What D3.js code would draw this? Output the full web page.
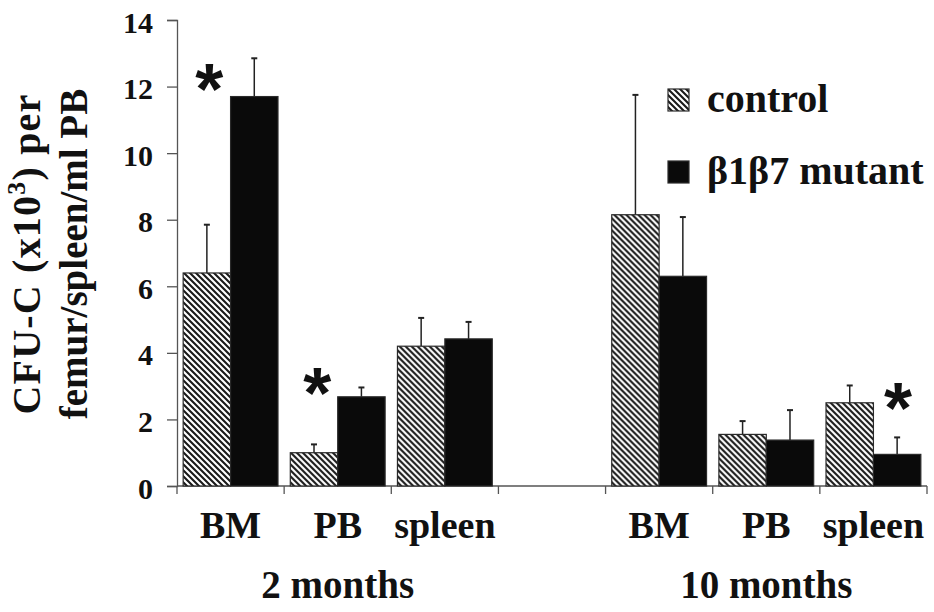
<!DOCTYPE html>
<html>
<head>
<meta charset="utf-8">
<script src="https://cdn.jsdelivr.net/npm/d3@7"></script>
<style>
  body { margin: 0; background: #fff; }
  svg { display: block; }
  text { font-family: "Liberation Serif", "Times New Roman", serif; font-weight: bold; fill: #111; }
  text.star { font-family: "Liberation Sans", Arial, sans-serif; }
</style>
</head>
<body>
<div id="chart"></div>
<script>
// categories along the x axis ('' is the gap between the two time points)
const categories = ['BM', 'PB', 'spleen', '', 'BM', 'PB', 'spleen'];
const groups = ['2 months', '10 months'];
const series = ['control', 'β1β7 mutant'];

// CFU-C (x10^3) means and upper error bars, per category
const controlValues = [6.4, 1.0, 4.2, null, 8.15, 1.55, 2.5];
const controlErrors = [7.85, 1.25, 5.05, null, 11.75, 1.95, 3.02];
const mutantValues = [11.7, 2.68, 4.42, null, 6.3, 1.38, 0.95];
const mutantErrors = [12.85, 2.96, 4.93, null, 8.08, 2.28, 1.46];

// significance stars: category index, value level
const starCats = [0, 1, 6];
const starLevels = [12.25, 3.12, 2.67];

const yTicks = [0, 2, 4, 6, 8, 10, 12, 14];

const W = 934, H = 612;
const margin = { top: 20, right: 7, bottom: 126, left: 177 };
const width = W - margin.left - margin.right;
const height = H - margin.top - margin.bottom;

const svg = d3.select('#chart').append('svg')
  .attr('width', W)
  .attr('height', H);

const defs = svg.append('defs');
const pat = defs.append('pattern')
  .attr('id', 'hatch')
  .attr('patternUnits', 'userSpaceOnUse')
  .attr('width', 6)
  .attr('height', 6);
pat.append('rect').attr('width', 6).attr('height', 6).attr('fill', '#fff');
pat.append('path')
  .attr('d', 'M0,0 L6,6 M-3,3 L3,9 M3,-3 L9,3')
  .attr('stroke', '#1a1a1a')
  .attr('stroke-width', 2.1);

const el = svg.append('g')
  .attr('transform', `translate(${margin.left}, ${margin.top})`);

const x0 = d3.scaleBand()
  .domain(d3.range(categories.length))
  .range([0, width])
  .padding(0);

const x1 = d3.scaleBand()
  .domain(series)
  .range([0, x0.bandwidth()])
  .paddingInner(0)
  .paddingOuter(0.13);

const yScale = d3.scaleLinear()
  .domain([0, 14])
  .range([height, 0]);

const axisColor = '#555';

// y axis
const yAxis = d3.axisLeft(yScale)
  .tickValues(yTicks)
  .tickSize(10)
  .tickPadding(14)
  .tickFormat(d3.format('d'));

const gy = el.append('g').call(yAxis);
gy.select('.domain').attr('stroke', axisColor).attr('stroke-width', 1.3);
gy.selectAll('.tick line').attr('stroke', axisColor).attr('stroke-width', 1.3);
gy.selectAll('.tick text')
  .attr('font-size', '30px')
  .attr('fill', '#111')
  .attr('dy', '0.4em');

// x axis: baseline plus ticks at category boundaries
const gx = el.append('g').attr('transform', `translate(0, ${height})`);
gx.append('line')
  .attr('x1', 0).attr('x2', width)
  .attr('stroke', axisColor).attr('stroke-width', 1.3);
const bounds = d3.range(categories.length + 1).map(i => i < categories.length ? x0(i) : width);
gx.selectAll('.xtick')
  .data(bounds)
  .enter().append('line')
  .attr('x1', d => d).attr('x2', d => d)
  .attr('y1', 0).attr('y2', 8)
  .attr('stroke', axisColor).attr('stroke-width', 1.3);

gx.selectAll('.cat')
  .data(categories)
  .enter().append('text')
  .attr('x', (d, i) => x0(i) + x0.bandwidth() / 2)
  .attr('y', 52)
  .attr('text-anchor', 'middle')
  .attr('font-size', '38px')
  .text(d => d);

gx.selectAll('.grp')
  .data(groups)
  .enter().append('text')
  .attr('x', (d, i) => x0(i * 4 + 1) + x0.bandwidth() / 2)
  .attr('y', 112)
  .attr('text-anchor', 'middle')
  .attr('font-size', '39px')
  .text(d => d);

// bars
const rows = categories.map((c, i) => ({
  i,
  vals: [
    { s: series[0], v: controlValues[i], e: controlErrors[i] },
    { s: series[1], v: mutantValues[i], e: mutantErrors[i] },
  ],
})).filter(r => r.vals[0].v != null);

const cat = el.selectAll('.cat-g')
  .data(rows)
  .enter().append('g')
  .attr('transform', d => `translate(${x0(d.i)}, 0)`);

const cx = d => x1(d.s) + x1.bandwidth() / 2;

// error bars (drawn first so bar covers base)
cat.selectAll('.err')
  .data(d => d.vals)
  .enter().append('line')
  .attr('x1', cx).attr('x2', cx)
  .attr('y1', d => yScale(d.v))
  .attr('y2', d => yScale(d.e))
  .attr('stroke', '#222')
  .attr('stroke-width', 1.5);

cat.selectAll('.cap')
  .data(d => d.vals)
  .enter().append('line')
  .attr('x1', d => cx(d) - 3).attr('x2', d => cx(d) + 3)
  .attr('y1', d => yScale(d.e))
  .attr('y2', d => yScale(d.e))
  .attr('stroke', '#222')
  .attr('stroke-width', 2);

cat.selectAll('.bar')
  .data(d => d.vals)
  .enter().append('rect')
  .attr('x', d => x1(d.s))
  .attr('width', x1.bandwidth())
  .attr('y', d => yScale(d.v))
  .attr('height', d => height - yScale(d.v))
  .attr('fill', d => d.s === series[0] ? 'url(#hatch)' : '#0a0a0a')
  .attr('stroke', '#2a2a2a')
  .attr('stroke-width', 1.2);

// stars
const starOffset = [0.3, 0.31, 0.73];
el.selectAll('.star')
  .data(starCats)
  .enter().append('text')
  .attr('class', 'star')
  .attr('x', (d, k) => x0(d) + x0.bandwidth() * starOffset[k])
  .attr('y', (d, k) => yScale(starLevels[k]) + 36)
  .attr('text-anchor', 'middle')
  .attr('font-size', '72px')
  .text('*');

// legend
const legend = svg.append('g').attr('transform', 'translate(668, 89)');
series.forEach((s, k) => {
  const g = legend.append('g').attr('transform', `translate(0, ${k * 72})`);
  g.append('rect')
    .attr('width', 21).attr('height', 22)
    .attr('fill', k === 0 ? 'url(#hatch)' : '#0a0a0a')
    .attr('stroke', '#2a2a2a')
    .attr('stroke-width', 1.2);
  g.append('text')
    .attr('x', 39)
    .attr('y', 23)
    .attr('font-size', '40px')
    .text(s);
});

// y axis title (two lines, rotated)
const yt = svg.append('text')
  .attr('transform', 'translate(0, 254) rotate(-90)')
  .attr('text-anchor', 'middle')
  .attr('font-size', '39px');
const l1 = yt.append('tspan').attr('x', 0).attr('y', 40)
  .attr('font-size', '40px')
  .attr('letter-spacing', '1.2px');
l1.append('tspan').text('CFU-C (x10');
l1.append('tspan').attr('font-size', '26px').attr('dy', '-15').text('3');
l1.append('tspan').attr('dy', '15').text(') per');
yt.append('tspan').attr('x', 0).attr('y', 87).text('femur/spleen/ml PB');
</script>
</body>
</html>
